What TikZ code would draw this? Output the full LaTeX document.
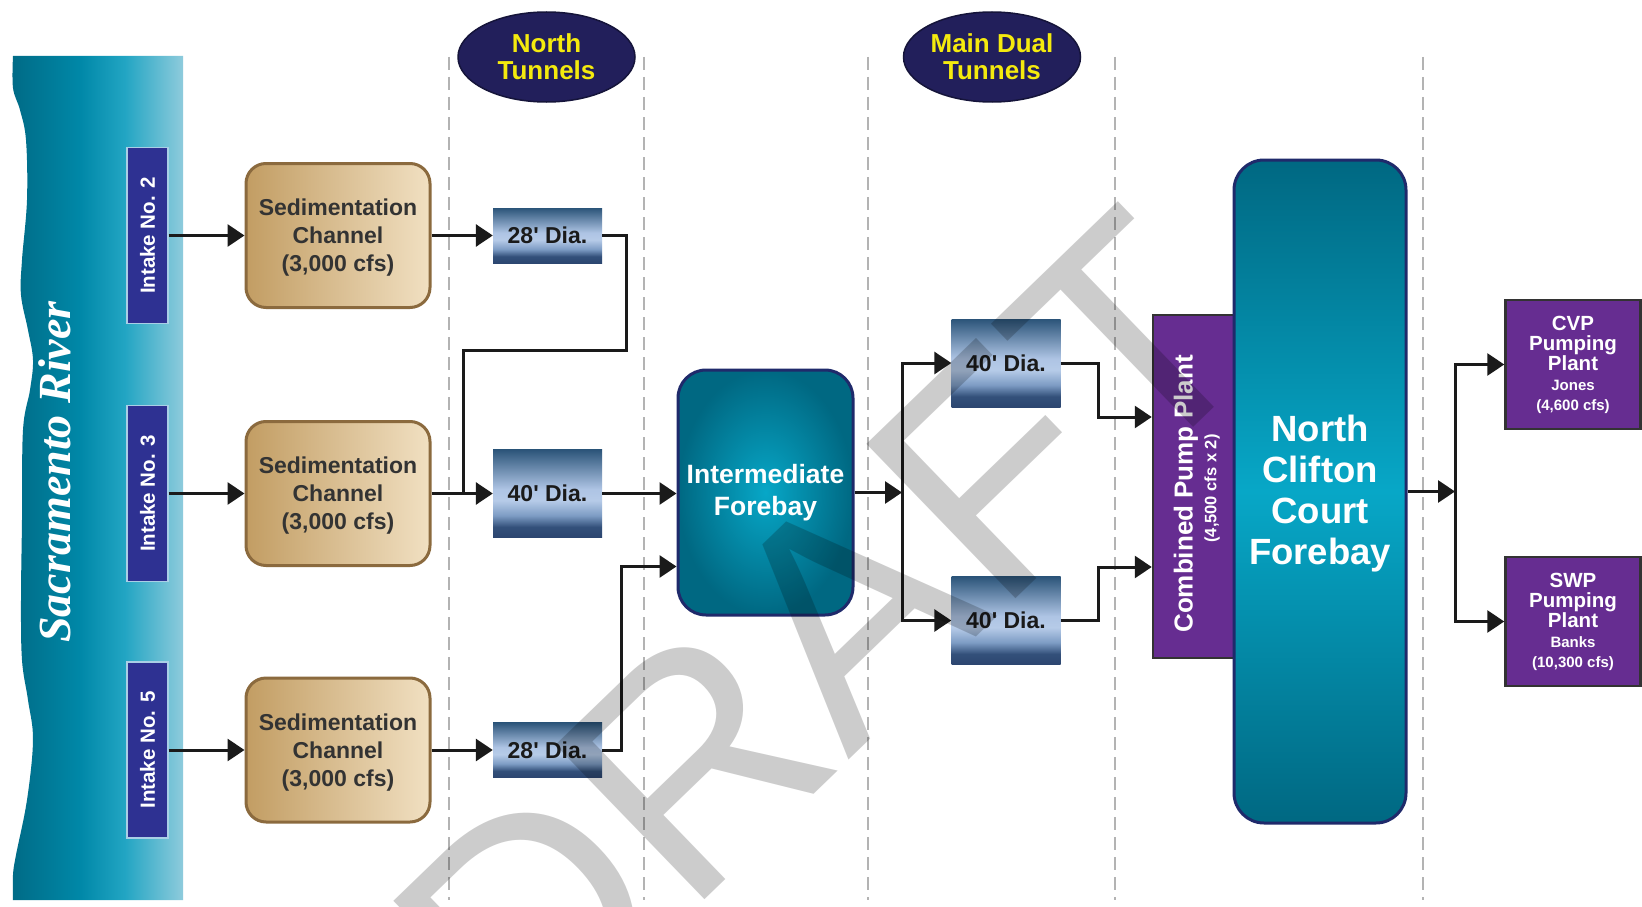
\documentclass[tikz,border=0pt]{standalone}
\usepackage{fontspec}
\setmainfont{Liberation Sans}
\newfontfamily\arl{Liberation Sans}
\newfontfamily\tms{Liberation Serif}
\usetikzlibrary{arrows.meta,shapes.geometric}

% palette
\definecolor{rvA}{HTML}{006B86}
\definecolor{rvB}{HTML}{0088A8}
\definecolor{rvC}{HTML}{22A5C3}
\definecolor{rvD}{HTML}{8ECBDC}
\definecolor{intakeblue}{HTML}{2E3192}
\definecolor{intakeedge}{HTML}{A9CFE6}
\definecolor{sedL}{HTML}{C29D63}
\definecolor{sedR}{HTML}{F1E0C2}
\definecolor{sedB}{HTML}{8B6A3E}
\definecolor{tubeBot}{HTML}{2C4670}
\definecolor{tubeLow}{HTML}{33507A}
\definecolor{tubeSoft}{HTML}{7D9CC4}
\definecolor{tubeMid}{HTML}{B6CBE8}
\definecolor{tubeMid2}{HTML}{AEC4E4}
\definecolor{tubeTop}{HTML}{2B5479}
\definecolor{bayOut}{HTML}{006882}
\definecolor{bayIn}{HTML}{07A7C7}
\definecolor{bayEdge}{HTML}{1F2A6B}
\definecolor{plantpurple}{HTML}{662D91}
\definecolor{plantedge}{HTML}{333333}
\definecolor{ovalfill}{HTML}{221F5B}
\definecolor{ovaledge}{HTML}{15143A}
\definecolor{ovaltext}{HTML}{F4EA0E}
\definecolor{guidegray}{HTML}{B3B3B3}
\definecolor{linec}{HTML}{1A1A1A}
\definecolor{labelc}{HTML}{333333}

% river: dark teal on the left fading to pale blue on the right
\pgfdeclarehorizontalshading{river}{100bp}{color(0bp)=(rvA); color(25bp)=(rvA); color(45bp)=(rvB); color(58bp)=(rvC); color(75bp)=(rvD); color(100bp)=(rvD)}
% tunnel boxes: dark rims, light band just below the middle
\pgfdeclareverticalshading{tube}{100bp}{color(0bp)=(tubeBot); color(25bp)=(tubeBot); color(31bp)=(tubeLow); color(37.5bp)=(tubeSoft); color(46bp)=(tubeMid); color(52.5bp)=(tubeMid2); color(75bp)=(tubeTop); color(100bp)=(tubeTop)}

\tikzset{
  guide/.style={draw=guidegray, line width=2pt, dash pattern=on 13pt off 7pt},
  conn/.style={draw=linec, line width=3pt},
  arr/.style={conn, -{Triangle[length=17pt,width=22pt]}},
  intake/.style={rotate=90, minimum width=176pt, minimum height=41pt, inner sep=0pt,
    fill=intakeblue, draw=intakeedge, line width=1.2pt, text=white,
    font=\arl\bfseries\fontsize{20.5}{20.5}\selectfont},
  sedbox/.style={minimum width=184pt, minimum height=144pt, rounded corners=20pt,
    left color=sedL, right color=sedR, draw=sedB, line width=3pt},
  sedtext/.style={align=center, inner sep=0pt, text=labelc,
    font=\arl\bfseries\fontsize{23}{28}\selectfont},
  pipe/.style={minimum width=109pt, inner sep=0pt, shade, shading=tube, text=linec,
    font=\arl\bfseries\fontsize{23}{23}\selectfont},
  bay/.style={draw=bayEdge, line width=3pt, align=center, text=white},
  plant/.style={fill=plantpurple, draw=plantedge, line width=2.5pt, inner sep=0pt},
  oval/.style={ellipse, fill=ovalfill, draw=ovaledge, line width=1.5pt,
    minimum width=177pt, minimum height=90pt, inner sep=0pt, align=center,
    text=ovaltext, font=\arl\bfseries\fontsize{26}{27}\selectfont},
  plantlabel/.style={align=center, text=white, font=\arl\bfseries\fontsize{20.5}{20}\selectfont},
}

\begin{document}
\begin{tikzpicture}[x=1pt,y=-1pt]
\useasboundingbox (0,0) rectangle (1642,907);
\clip (0,0) rectangle (1642,907);
\fill[white] (0,0) rectangle (1642,907);

% column separators
\foreach \gx in {449,644,868,1115,1423}
  \draw[guide] (\gx,57) -- (\gx,900);

% the river band with its wavy west bank
\shade[shading=river] plot[smooth, tension=0.6] coordinates {
  (13,56) (13,88) (20,110) (26,140) (27,200) (22,260) (21,295) (28,330)
  (33,360) (30,390) (23,430) (22,520) (21,600) (22,660) (28,700) (33,740)
  (27,800) (16,855) (13,875) (13,900)}
  -- (183,900) -- (183,56) -- cycle;
\node[rotate=90, anchor=base, inner sep=0pt, text=white,
  font=\tms\bfseries\itshape\fontsize{46}{46}\selectfont] (river) at (70,472) {Sacramento River};

% headers
\node[oval] (nt) at (546.5,57) {North\\Tunnels};
\node[oval] (mdt) at (992,57) {Main Dual\\Tunnels};

% intakes
\node[intake] (in2) at (147.5,235.5) {Intake No. 2};
\node[intake] (in3) at (147.5,493.5) {Intake No. 3};
\node[intake] (in5) at (147.5,750) {Intake No. 5};

% sedimentation channels
\node[sedbox] (sed1) at (338,235.5) {};
\node[sedbox] (sed2) at (338,493.5) {};
\node[sedbox] (sed3) at (338,750) {};
\node[sedtext] (sedtx1) at (338,238) {Sedimentation\\Channel\\(3,000 cfs)};
\node[sedtext] (sedtx2) at (338,496) {Sedimentation\\Channel\\(3,000 cfs)};
\node[sedtext] (sedtx3) at (338,752.5) {Sedimentation\\Channel\\(3,000 cfs)};

% north tunnels
\node[pipe, minimum height=55pt] (t1) at (547.5,235.5) {28' Dia.};
\node[pipe, minimum height=88pt] (t2) at (547.5,493.5) {40' Dia.};
\node[pipe, minimum height=55pt] (t3) at (547.5,750) {28' Dia.};

% intermediate forebay
\node[bay, rounded corners=28pt, minimum width=175pt, minimum height=245pt,
  inner color=bayIn, outer color=bayOut,
  font=\arl\bfseries\fontsize{26.5}{32}\selectfont] (ifb) at (765.5,492.5) {Intermediate\\Forebay};

% main dual tunnels
\node[pipe, minimum height=88pt] (u40) at (1006,363) {40' Dia.};
\node[pipe, minimum height=88pt] (l40) at (1006,620.5) {40' Dia.};

% combined pump plant
\node[plant, minimum width=83pt, minimum height=343pt] (pump) at (1194.5,486.5) {};
\node[rotate=90, inner sep=0pt, text=white,
  font=\arl\bfseries\fontsize{26}{26}\selectfont] (pumpA) at (1186,494) {Combined Pump Plant};
\node[rotate=90, inner sep=0pt, text=white,
  font=\arl\bfseries\fontsize{16.5}{16.5}\selectfont] (pumpB) at (1212,488.5) {(4,500 cfs x 2)};

% north clifton court forebay
\node[bay, rounded corners=30pt, minimum width=172pt, minimum height=663pt,
  top color=bayOut, bottom color=bayOut, middle color=bayIn] (nccf) at (1320,491.5) {};
\node[align=center, inner sep=0pt, text=white,
  font=\arl\bfseries\fontsize{36.5}{41}\selectfont] (nccftx) at (1320,494) {North\\Clifton\\Court\\Forebay};

% pumping plants
\node[plant, plantlabel, minimum width=135pt, minimum height=129pt] (cvp) at (1573,364.5)
  {CVP\\Pumping\\Plant\\{\fontsize{15}{20}\selectfont Jones}\\{\fontsize{15}{20}\selectfont (4,600 cfs)}};
\node[plant, plantlabel, minimum width=135pt, minimum height=129pt] (swp) at (1573,621.5)
  {SWP\\Pumping\\Plant\\{\fontsize{15}{20}\selectfont Banks}\\{\fontsize{15}{20}\selectfont (10,300 cfs)}};

% flow connectors
\draw[arr] (in2.south) -- (sed1.west);
\draw[arr] (in3.south) -- (sed2.west);
\draw[arr] (in5.south) -- (sed3.west);
\draw[arr] (sed1.east) -- (t1.west);
\draw[arr] (sed2.east) -- (t2.west);
\draw[arr] (sed3.east) -- (t3.west);
\coordinate (m1) at (463,493.5);
\draw[conn] (t1.east) -| ++(24,115) -| (m1);
\draw[arr] (t2.east) -- (ifb.west |- t2.east);
\draw[arr] (t3.east) -- ++(19,0) |- ([yshift=-74pt]ifb.west);
\coordinate (s1) at (902,492.5);
\draw[arr] (ifb.east) -- (s1);
\draw[arr] (s1) |- (u40.west);
\draw[arr] (s1) |- (l40.west);
\draw[arr] (u40.east) -- ++(38,0) |- ([yshift=69.5pt]pump.west);
\draw[arr] (l40.east) -- ++(38,0) |- ([yshift=-80.5pt]pump.west);
\coordinate (s2) at (1455,491.5);
\draw[arr] (nccf.east) -- (s2);
\draw[arr] (s2) |- (cvp.west);
\draw[arr] (s2) |- (swp.west);

% watermark
\node[rotate=44, anchor=base west, inner sep=0pt, text=black, text opacity=0.2,
  font=\arl\fontsize{312}{312}\selectfont] (draft) at (524,1074) {DRAFT};
\end{tikzpicture}
\end{document}
